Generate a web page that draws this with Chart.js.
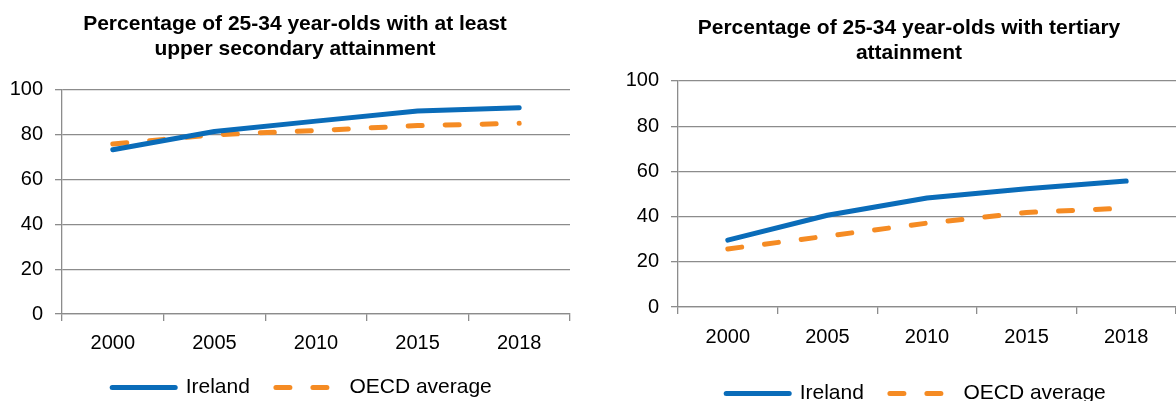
<!DOCTYPE html>
<html>
<head>
<meta charset="utf-8">
<script src="https://cdn.jsdelivr.net/npm/chart.js@4.4.1/dist/chart.umd.min.js"></script>
<style>
  body { margin: 0; background: #fff; }
  #stage { position: relative; width: 1176px; height: 401px; overflow: hidden; }
  .box { position: absolute; top: 0; height: 401px; }
</style>
</head>
<body>
<div id="stage">
  <div class="box" style="left:0;width:590px;"><canvas id="upperChart"></canvas></div>
  <div class="box" style="left:590px;width:638px;"><canvas id="tertiaryChart"></canvas></div>
</div>
<script>
// Data
const years = ['2000', '2005', '2010', '2015', '2018'];
const yTicks = [0, 20, 40, 60, 80, 100];

const upperIreland = [73.3, 81.5, 86.1, 90.6, 92.1];
const upperOecd = [75.9, 80.0, 81.9, 84.1, 85.1];

const tertiaryIreland = [29.6, 40.6, 48.2, 52.3, 55.7];
const tertiaryOecd = [25.7, 31.4, 37.1, 41.8, 43.8];

const upperTitle = ['Percentage of 25-34 year-olds with at least', 'upper secondary attainment'];
const tertiaryTitle = ['Percentage of 25-34 year-olds with tertiary', 'attainment'];

const FONT = '"Liberation Sans", Arial, sans-serif';
const BLUE = '#0a6cb9';
const ORANGE = '#f58b23';
const GRID = '#8c8c8c';

// legend items keep the dataset dash (point style would drop it)
function legendLabels(chart) {
  const items = Chart.defaults.plugins.legend.labels.generateLabels(chart);
  items.forEach(function(it) {
    const ds = chart.data.datasets[it.datasetIndex];
    it.lineDash = ds.borderDash || [];
    it.lineCap = 'round';
    it.lineWidth = ds.borderWidth;
  });
  return items;
}

// nudge the legend a little after layout
function legendShift(dx, dy) {
  return {
    id: 'legendShift',
    afterLayout: function(chart) {
      if (chart.legend) {
        chart.legend.left += dx;
        chart.legend.right += dx;
        chart.legend.top += dy;
        chart.legend.bottom += dy;
      }
    }
  };
}

function makeChart(canvasId, title, ireland, oecd, lay) {
  return new Chart(document.getElementById(canvasId), {
    type: 'line',
    data: {
      labels: years,
      datasets: [
        {
          label: 'Ireland',
          data: ireland,
          borderColor: BLUE,
          backgroundColor: BLUE,
          borderWidth: 5,
          borderCapStyle: 'round',
          borderJoinStyle: 'round',
          pointRadius: 0,
          tension: 0
        },
        {
          label: 'OECD average',
          data: oecd,
          borderColor: ORANGE,
          backgroundColor: ORANGE,
          borderWidth: 5,
          borderDash: [14, 23],
          borderCapStyle: 'round',
          borderJoinStyle: 'round',
          pointRadius: 0,
          tension: 0
        }
      ]
    },
    options: {
      responsive: true,
      maintainAspectRatio: false,
      animation: false,
      layout: { padding: { left: 0, right: 0, top: 0, bottom: lay.bottom } },
      plugins: {
        tooltip: { enabled: false },
        title: {
          display: true,
          text: title,
          color: '#000',
          font: { family: FONT, size: 21, weight: 'bold', lineHeight: 1.19 },
          padding: { top: lay.titleTop, bottom: lay.titleBottom }
        },
        legend: {
          display: true,
          position: 'bottom',
          labels: {
            usePointStyle: true,
            pointStyle: 'line',
            pointStyleWidth: 63,
            padding: 26,
            color: '#000',
            font: { family: FONT, size: 21 },
            generateLabels: legendLabels
          }
        }
      },
      scales: {
        x: {
          offset: true,
          grid: { offset: true, drawOnChartArea: false, drawTicks: true, tickLength: 7, color: GRID, lineWidth: 1.3 },
          border: { color: GRID, width: 1.3 },
          ticks: { color: '#000', padding: lay.xPad, font: { family: FONT, size: 20 } },
          afterFit: function(s) { s.height = lay.xHeight; }
        },
        y: {
          min: 0,
          max: 100,
          afterBuildTicks: function(s) { s.ticks = yTicks.map(v => ({ value: v })); },
          grid: { color: GRID, lineWidth: 1.3, tickLength: 7 },
          border: { color: GRID, width: 1.3 },
          ticks: { color: '#000', padding: 12, font: { family: FONT, size: 20 } },
          afterFit: function(s) { s.width = lay.yWidth; }
        },
        // empty axis that only keeps room on the right of the plot
        spacer: {
          type: 'linear',
          position: 'right',
          grid: { display: false },
          border: { display: false },
          ticks: { display: false },
          afterFit: function(s) { s.width = lay.rightGap; }
        }
      }
    },
    plugins: [legendShift(lay.legendDx, lay.legendDy)]
  });
}

makeChart('upperChart', upperTitle, upperIreland, upperOecd,
  { titleTop: 12, titleBottom: 28, xHeight: 40, xPad: 10, bottom: -10, legendDx: 7, legendDy: -3, yWidth: 62, rightGap: 20 });

makeChart('tertiaryChart', tertiaryTitle, tertiaryIreland, tertiaryOecd,
  { titleTop: 16, titleBottom: 15, xHeight: 54, xPad: 11, bottom: -17, legendDx: 7, legendDy: -4, yWidth: 88, rightGap: 52 });
</script>
</body>
</html>
